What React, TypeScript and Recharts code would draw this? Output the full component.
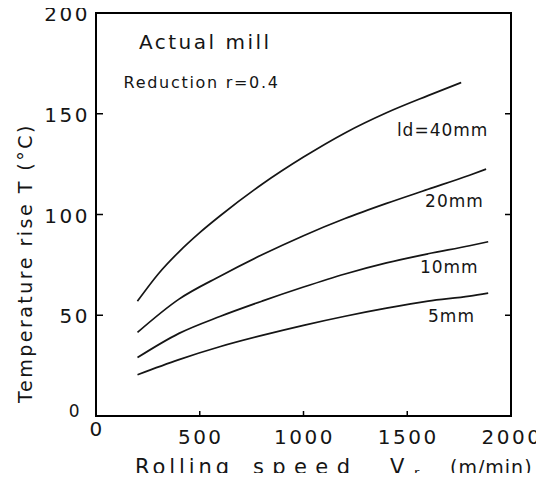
import { LineChart, Line, XAxis, YAxis, LabelList } from "recharts";

// Rolling speed (m/min) and temperature rise (°C)
const speeds40 = [200, 300, 400, 500, 600, 800, 1000, 1200, 1400, 1600, 1760];
const rise40 = [57, 70.5, 81.5, 91, 99.5, 115, 128.5, 140.5, 150.5, 159, 165.5];
const speeds20 = [200, 400, 600, 800, 1000, 1200, 1400, 1600, 1800, 1880];
const rise20 = [41.5, 58, 69.5, 80, 89.5, 98, 105.5, 112.5, 119.5, 122.5];
const speedsThin = [200, 400, 600, 800, 1000, 1200, 1400, 1600, 1800, 1890];
const rise10 = [29, 41, 49.5, 57, 64, 70.5, 76, 80.5, 84.5, 86.5];
const rise5 = [20.5, 28, 34.5, 40, 45, 49.5, 53.5, 57, 59.5, 61];

const xTicks = [0, 500, 1000, 1500, 2000];
const yTicks = [0, 50, 100, 150, 200];
const innerYTicks = [50, 100, 150];
const innerXTicks = [500, 1000, 1500];

// text placed in the plot, at data coordinates (left end of baseline)
const noteText = ["Actual mill", "Reduction r=0.4", "ld=40mm", "20mm", "10mm", "5mm"];
const noteX = [207, 133, 1450, 1586, 1561, 1600];
const noteY = [182, 163, 139, 103.5, 71, 46.5];
const noteSize = [20, 16, 17, 17, 17, 17];
const noteSpacing = [2.5, 1.7, 1, 1, 1, 1];

const W = 544;
const H = 481;
const PLOT = { left: 96, top: 13, width: 415, height: 403 };
const X_MAX = 2000;
const Y_MAX = 200;

const FONT = "'DejaVu Sans', sans-serif";
const INK = "#151515";

const allSpeeds = Array.from(new Set([...speeds40, ...speeds20, ...speedsThin])).sort((a, b) => a - b);
const pick = (xs: number[], ys: number[], x: number) => {
  const i = xs.indexOf(x);
  return i < 0 ? null : ys[i];
};
const data = allSpeeds.map((x) => ({
  x,
  t40: pick(speeds40, rise40, x),
  t20: pick(speeds20, rise20, x),
  t10: pick(speedsThin, rise10, x),
  t5: pick(speedsThin, rise5, x),
}));

const notes = noteText.map((text, i) => ({ x: noteX[i], t: noteY[i], text }));

// frame + inward tick marks, same box as the chart's plot area
const fx = (v: number) => PLOT.left + (PLOT.width * v) / X_MAX;
const fy = (v: number) => PLOT.top + PLOT.height * (1 - v / Y_MAX);
const right = PLOT.left + PLOT.width;
const bottom = PLOT.top + PLOT.height;

const LeftTick = ({ x, y, payload }: any) => {
  const v = payload.value;
  return (
    <text
      x={v === 0 ? x - 12 : x - 4}
      y={v === 0 ? y + 1 : y + 8}
      textAnchor="end"
      fontFamily={FONT}
      fontSize={v === 0 ? 17 : 20}
      letterSpacing={2.5}
      fill={INK}
    >
      {v}
    </text>
  );
};

const BottomTick = ({ x, y, payload }: any) => {
  const v = payload.value;
  return (
    <text
      x={x + 1}
      y={v === 0 ? y + 18 : y + 26}
      textAnchor="middle"
      fontFamily={FONT}
      fontSize={20}
      letterSpacing={2.5}
      fill={INK}
    >
      {v}
    </text>
  );
};

const NoteLabel = ({ x, y, index }: any) => (
  <text x={x} y={y} fontFamily={FONT} fontSize={noteSize[index]} letterSpacing={noteSpacing[index]} fill={INK}>
    {noteText[index]}
  </text>
);

const lineProps = {
  type: "monotone" as const,
  stroke: INK,
  strokeWidth: 1.7,
  dot: false,
  activeDot: false,
  connectNulls: true,
  isAnimationActive: false,
};

export default function App() {
  return (
    <div style={{ position: "relative", margin: -8, width: W, height: H, background: "#fff" }}>
      <LineChart
        width={W}
        height={H}
        data={data}
        margin={{ top: PLOT.top, right: W - right, bottom: 0, left: 0 }}
      >
        <XAxis
          type="number"
          dataKey="x"
          domain={[0, X_MAX]}
          ticks={xTicks}
          height={H - bottom}
          tickSize={0}
          tickLine={false}
          tick={<BottomTick />}
          axisLine={false}
        />
        <YAxis
          type="number"
          domain={[0, Y_MAX]}
          ticks={yTicks}
          width={PLOT.left}
          tickSize={0}
          tickLine={false}
          tick={<LeftTick />}
          axisLine={false}
        />
        <Line dataKey="t40" {...lineProps} />
        <Line dataKey="t20" {...lineProps} />
        <Line dataKey="t10" {...lineProps} />
        <Line dataKey="t5" {...lineProps} />
        <Line data={notes} dataKey="t" stroke="none" dot={false} activeDot={false} isAnimationActive={false}>
          <LabelList dataKey="text" content={<NoteLabel />} />
        </Line>
      </LineChart>
      <svg
        width={W}
        height={H}
        style={{ position: "absolute", left: 0, top: 0, pointerEvents: "none", zIndex: 5 }}
      >
        <g stroke="#000" strokeWidth={2} strokeLinecap="square">
          <line x1={PLOT.left} y1={PLOT.top} x2={right} y2={PLOT.top} />
          <line x1={right} y1={PLOT.top} x2={right} y2={bottom} />
          <line x1={PLOT.left} y1={bottom} x2={right} y2={bottom} />
          <line x1={PLOT.left} y1={PLOT.top} x2={PLOT.left} y2={bottom} />
        </g>
        <g stroke="#000" strokeWidth={1.5}>
          {innerYTicks.map((v) => (
            <g key={v}>
              <line x1={PLOT.left} x2={PLOT.left + 7} y1={fy(v)} y2={fy(v)} />
              <line x1={right - 6} x2={right} y1={fy(v)} y2={fy(v)} />
            </g>
          ))}
          {innerXTicks.map((v) => (
            <line key={v} x1={fx(v)} x2={fx(v)} y1={bottom} y2={bottom - 5} />
          ))}
        </g>
        <text
          transform="translate(32 263) rotate(-90)"
          textAnchor="middle"
          fontFamily={FONT}
          fontSize={19}
          letterSpacing={2.5}
          fill={INK}
        >
          Temperature rise  T (°C)
        </text>
        <g fontFamily={FONT} fontSize={21} fill={INK}>
          <text x={135} y={474} textLength={94} lengthAdjust="spacing">Rolling</text>
          <text x={253} y={474} textLength={97} lengthAdjust="spacing">speed</text>
          <text x={390} y={474}>V</text>
          <text x={414} y={477} fontSize={13}>r</text>
          <text x={450} y={474} fontSize={19} letterSpacing={1}>(m/min)</text>
        </g>
      </svg>
    </div>
  );
}
